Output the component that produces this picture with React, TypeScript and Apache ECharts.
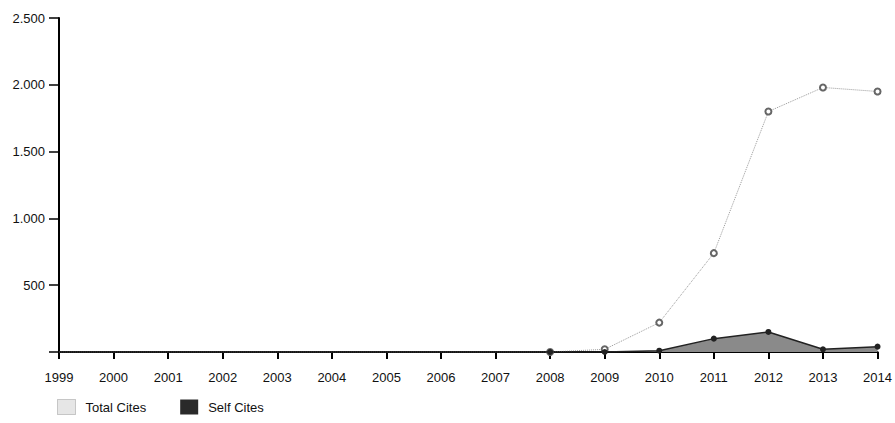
import React, { useEffect, useRef } from "react";
import * as echarts from "echarts";

const years = ["1999","2000","2001","2002","2003","2004","2005","2006","2007","2008","2009","2010","2011","2012","2013","2014"];
const totalCites = [0, 0, 0, 0, 0, 0, 0, 0, 0, 0, 20, 220, 740, 1800, 1980, 1950];
const selfCites = [0, 0, 0, 0, 0, 0, 0, 0, 0, 0, 0, 10, 100, 150, 20, 40];
const yTicks = [0, 500, 1000, 1500, 2000, 2500];
const firstMarkedYear = "2008";

export default function App() {
  const ref = useRef<HTMLDivElement>(null);
  useEffect(() => {
    if (!ref.current) return;
    document.documentElement.style.overflow = "hidden";
    document.body.style.margin = "0";
    const chart = echarts.init(ref.current, null, { renderer: "svg" });
    const font = "Liberation Sans, Arial, sans-serif";
    const startIdx = years.indexOf(firstMarkedYear);
    const mark = (arr: number[]) =>
      arr.map((v, i) => (i >= startIdx ? { value: v } : { value: v, symbol: "none" }));
    chart.setOption({
      animation: false,
      backgroundColor: "#ffffff",
      textStyle: { fontFamily: font },
      grid: { left: 59, right: 12, top: 18, bottom: 71, containLabel: false },
      legend: {
        left: 52,
        top: 394,
        itemWidth: 18,
        itemHeight: 15,
        itemGap: 34,
        icon: "rect",
        textStyle: { fontSize: 13, color: "#111", fontFamily: font, padding: [0, 0, 0, 5] },
        data: [
          { name: "Total Cites", itemStyle: { color: "#e6e6e6", borderColor: "#999", borderWidth: 1, borderType: "dotted" } },
          { name: "Self Cites", itemStyle: { color: "#2a2a2a" } },
        ],
      },
      xAxis: {
        type: "category",
        data: years,
        boundaryGap: false,
        axisLine: { lineStyle: { color: "#000", width: 2 } },
        axisTick: { show: true, length: 7, lineStyle: { color: "#000", width: 2 }, alignWithLabel: true },
        axisLabel: { color: "#111", fontSize: 13, margin: 19, fontFamily: font },
        splitLine: { show: false },
      },
      yAxis: {
        type: "value",
        min: yTicks[0],
        max: yTicks[yTicks.length - 1],
        interval: 500,
        axisLine: { show: true, lineStyle: { color: "#000", width: 2 } },
        axisTick: { show: true, length: 10, lineStyle: { color: "#000", width: 1.5 } },
        axisLabel: {
          color: "#111",
          fontSize: 13,
          margin: 14,
          fontFamily: font,
          formatter: (v: number) => (v === 0 ? "" : v.toLocaleString("de-DE")),
        },
        splitLine: { show: false },
      },
      series: [
        {
          name: "Total Cites",
          type: "line",
          data: mark(totalCites),
          symbol: "emptyCircle",
          symbolSize: 6,
          showSymbol: true,
          itemStyle: { color: "#666", borderColor: "#555", borderWidth: 1 },
          lineStyle: { color: "#999", width: 1, type: "dotted" },
          z: 2,
        },
        {
          name: "Self Cites",
          type: "line",
          data: mark(selfCites),
          symbol: "circle",
          symbolSize: 6,
          itemStyle: { color: "#222" },
          lineStyle: { color: "#222", width: 1.5 },
          areaStyle: { color: "#8a8a8a", opacity: 1 },
          z: 3,
        },
      ],
    });
    return () => chart.dispose();
  }, []);
  return <div ref={ref} style={{ width: 895, height: 423 }} />;
}
